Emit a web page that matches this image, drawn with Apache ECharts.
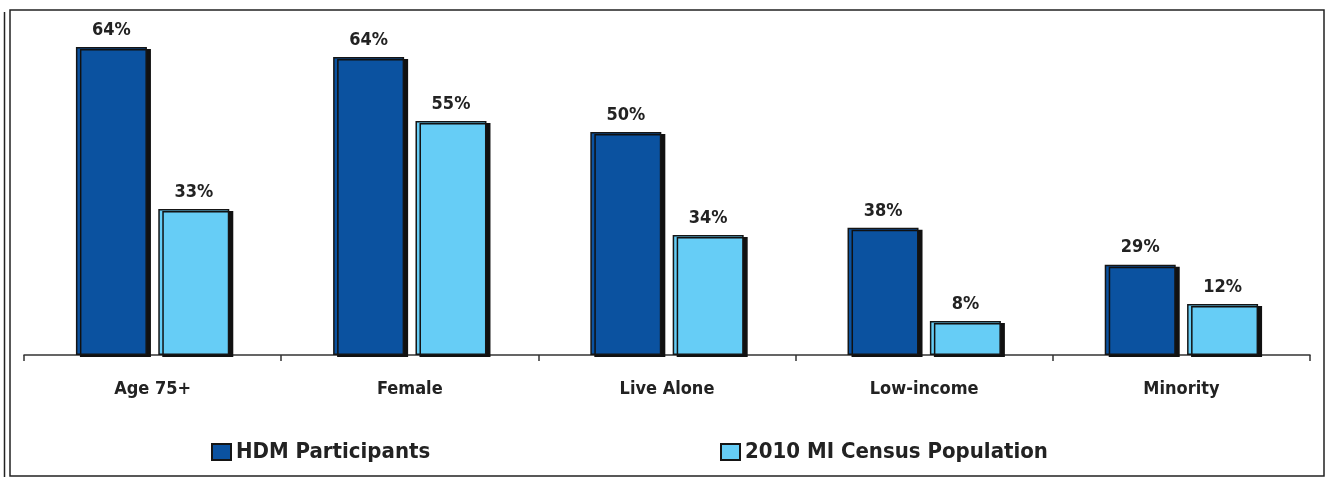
<!DOCTYPE html>
<html>
<head>
<meta charset="utf-8">
<script src="https://cdn.jsdelivr.net/npm/echarts@6/dist/echarts.min.js"></script>
<style>
    html, body { margin: 0; padding: 0; background: #fff; }
    #main { width: 1332px; height: 477px; }
</style>
</head>
<body>
<div id="main"></div>
<script>
// 数据
var categories = ['Age 75+', 'Female', 'Live Alone', 'Low-income', 'Minority'];
var seriesNames = ['HDM Participants', '2010 MI Census Population'];
// bar heights as drawn in the picture (percent scale)
var hdmValues = [70, 67.7, 50.7, 28.9, 20.5];
var censusValues = [33.2, 53.2, 27.3, 7.7, 11.6];
// printed labels above the bars
var hdmLabels = ['64%', '64%', '50%', '38%', '29%'];
var censusLabels = ['33%', '55%', '34%', '8%', '12%'];

var FONT = '"Liberation Sans Narrow", "Arial Narrow", "DejaVu Sans Condensed", sans-serif';

var myChart = echarts.init(document.getElementById('main'));

function barSeries(name, values, labels, color) {
    return {
        name: name,
        type: 'bar',
        data: values,
        barWidth: 71,
        barGap: '16%',
        itemStyle: {
            color: color,
            borderColor: '#151515',
            borderWidth: 1.5,
            shadowColor: '#111',
            shadowOffsetX: 4,
            shadowOffsetY: 2,
            shadowBlur: 0
        },
        label: {
            show: true,
            position: 'top',
            distance: 8,
            color: '#222',
            fontFamily: FONT,
            fontWeight: 'bold',
            fontSize: 18,
            formatter: function (p) { return labels[p.dataIndex]; }
        }
    };
}

var legendText = { fontFamily: FONT, fontWeight: 'bold', fontSize: 22, color: '#222' };

myChart.setOption({
    animation: false,
    grid: { left: 24, right: 22, top: 47, bottom: 122 },
    legend: [
        {
            data: [seriesNames[0]], left: 211, top: 441, padding: 0, itemGap: 8,
            icon: 'rect', itemWidth: 19, itemHeight: 16, textStyle: legendText
        },
        {
            data: [seriesNames[1]], left: 720, top: 441, padding: 0, itemGap: 8,
            icon: 'rect', itemWidth: 19, itemHeight: 16, textStyle: legendText
        }
    ],
    xAxis: {
        type: 'category',
        data: categories,
        axisLine: { lineStyle: { color: '#333', width: 1.5 } },
        axisTick: { show: true, length: 6, lineStyle: { color: '#333', width: 1.5 } },
        axisLabel: {
            margin: 25, color: '#222',
            fontFamily: FONT, fontWeight: 'bold', fontSize: 18
        }
    },
    yAxis: {
        type: 'value', min: 0, max: 70,
        show: false,
        splitLine: { show: false }
    },
    series: [
        barSeries(seriesNames[0], hdmValues, hdmLabels, '#0b52a0'),
        barSeries(seriesNames[1], censusValues, censusLabels, '#66cdf6')
    ],
    graphic: [
        { type: 'rect', shape: { x: 10, y: 10, width: 1314, height: 466 },
          style: { fill: 'none', stroke: '#222', lineWidth: 1.5 }, silent: true },
        { type: 'line', shape: { x1: 4.5, y1: 12, x2: 4.5, y2: 477 },
          style: { stroke: '#222', lineWidth: 1.5 }, silent: true }
    ]
});
</script>
</body>
</html>
